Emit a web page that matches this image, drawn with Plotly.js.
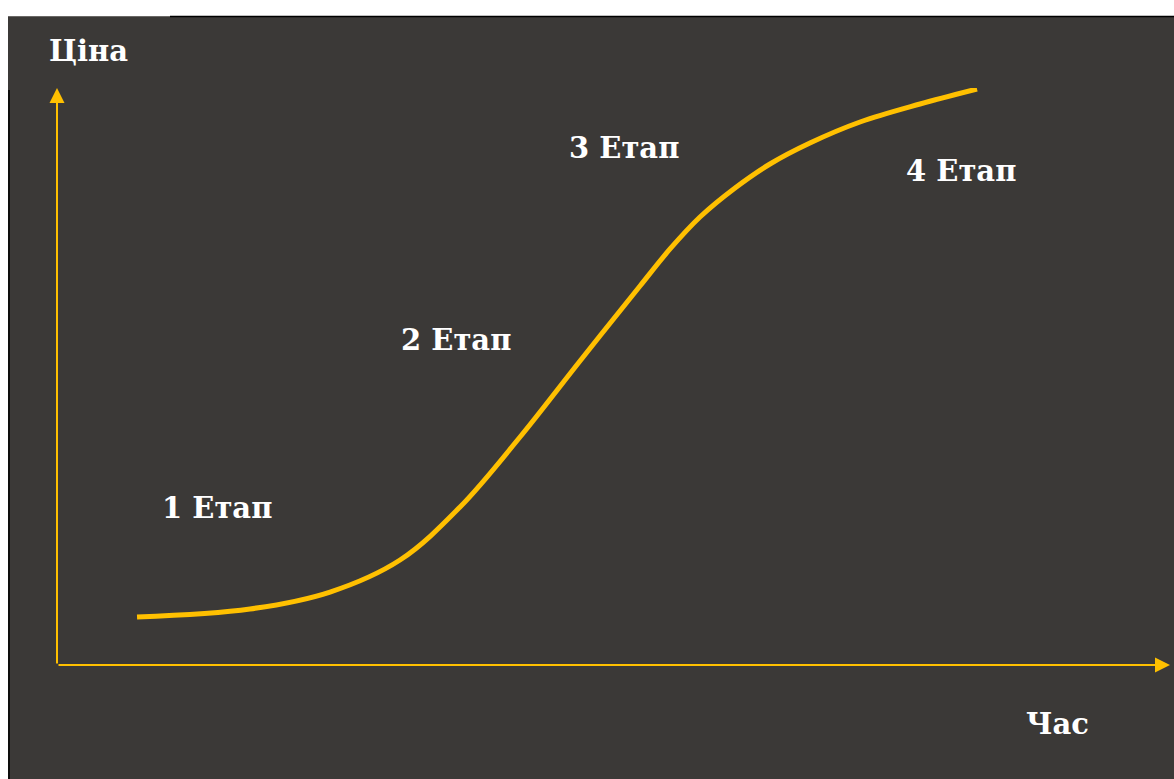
<!DOCTYPE html>
<html>
<head>
<meta charset="utf-8">
<script src="https://cdn.plot.ly/plotly-3.0.1.min.js"></script>
<style>html,body{margin:0;padding:0;background:#fff;}#chart{width:1174px;height:779px;}</style>
</head>
<body>
<div id="chart"></div>
<script>
// Conceptual S-curve: price (Ціна) over time (Час)
const timeValues = [7.19, 17.34, 24.53, 30.82, 36.21, 41.60, 46.99, 52.38, 55.08, 57.77, 60.92, 64.06, 67.65, 72.15, 77.54, 82.66];
const priceValues = [8.32, 9.71, 12.65, 18.20, 27.38, 39.51, 52.69, 65.68, 72.10, 77.64, 82.67, 86.83, 90.47, 94.11, 97.23, 99.83];
const stageLabels = ["1 Етап", "2 Етап", "3 Етап", "4 Етап"];
const yAxisLabel = "Ціна";
const xAxisLabel = "Час";

const W = 1174, H = 779;
const L = 57, R = 4, T = 88, B = 114;
const pw = W - L - R, ph = H - T - B;
const px = x => (x - L) / pw;
const py = y => (H - B - y) / ph;

const gold = "#ffc000";
const bg = "#3b3937";
const textFont = {family: "DejaVu Serif", size: 29, color: "#ffffff", weight: "bold"};

const stagePos = [[217, 508], [456, 340], [624, 148], [961, 171]];

const annotations = [];
// axis arrows
annotations.push({xref: "paper", yref: "paper", x: px(1170), y: 0, ax: -(1170 - L), ay: 0, axref: "pixel", ayref: "pixel",
  text: "", showarrow: true, arrowhead: 2, arrowsize: 1.5, arrowwidth: 2, arrowcolor: gold, standoff: 0, startstandoff: 0});
annotations.push({xref: "paper", yref: "paper", x: 0, y: 1, ax: 0, ay: ph, axref: "pixel", ayref: "pixel",
  text: "", showarrow: true, arrowhead: 2, arrowsize: 1.5, arrowwidth: 2, arrowcolor: gold, standoff: 0, startstandoff: 0});

stageLabels.forEach((s, i) => {
  annotations.push({xref: "paper", yref: "paper", x: px(stagePos[i][0]), y: py(stagePos[i][1]), text: "<b>" + s + "</b>",
    showarrow: false, xanchor: "center", yanchor: "middle", font: textFont});
});
annotations.push({xref: "paper", yref: "paper", x: px(88), y: py(51), text: "<b>" + yAxisLabel + "</b>",
  showarrow: false, xanchor: "center", yanchor: "middle", font: textFont});
annotations.push({xref: "paper", yref: "paper", x: px(1057), y: py(724), text: "<b>" + xAxisLabel + "</b>",
  showarrow: false, xanchor: "center", yanchor: "middle", font: textFont});

const shapes = [
  {type: "rect", xref: "paper", yref: "paper", x0: px(0), x1: px(W), y0: py(0), y1: py(16), fillcolor: "#ffffff", line: {width: 0}, layer: "below"},
  {type: "rect", xref: "paper", yref: "paper", x0: px(0), x1: px(8), y0: py(0), y1: py(H), fillcolor: "#ffffff", line: {width: 0}, layer: "below"},
  {type: "line", xref: "paper", yref: "paper", x0: px(8), x1: px(170), y0: py(16.5), y1: py(16.5), line: {color: "#6a6866", width: 1}},
  {type: "line", xref: "paper", yref: "paper", x0: px(170), x1: px(W), y0: py(16.5), y1: py(16.5), line: {color: "#000000", width: 1.5}},
  {type: "line", xref: "paper", yref: "paper", x0: px(9), x1: px(9), y0: py(90), y1: py(H), line: {color: "#000000", width: 1.5}}
];

const trace = {
  x: timeValues, y: priceValues, type: "scatter", mode: "lines",
  line: {color: gold, width: 5, shape: "spline", smoothing: 1},
  hoverinfo: "skip"
};

const layout = {
  width: W, height: H,
  margin: {l: L, r: R, t: T, b: B, pad: 0},
  paper_bgcolor: bg, plot_bgcolor: bg,
  showlegend: false,
  xaxis: {range: [0, 100], visible: false, fixedrange: true},
  yaxis: {range: [0, 100], visible: false, fixedrange: true},
  shapes: shapes,
  annotations: annotations
};

Plotly.newPlot("chart", [trace], layout, {staticPlot: true, displayModeBar: false});
</script>
</body>
</html>
